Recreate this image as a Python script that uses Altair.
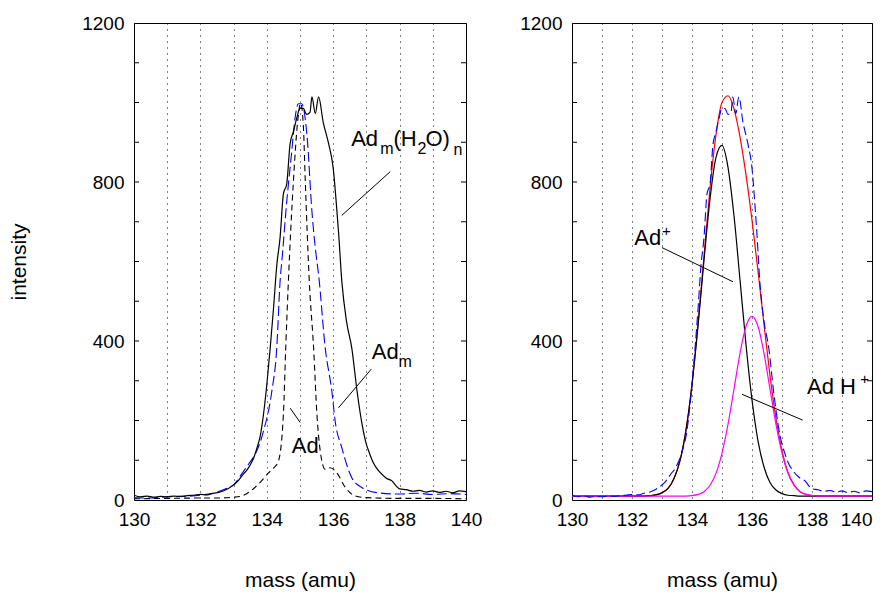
import altair as alt
import pandas as pd

# ---------------- data ----------------
# measured spectrum Ad_m(H2O)_n (left: black solid, right: blue dashed)
meas_x = [130.0, 130.2, 130.4, 130.6, 130.8, 131.0, 131.2, 131.4, 131.6, 131.8,
          132.0, 132.2, 132.4, 132.6, 132.8, 133.0, 133.1, 133.2, 133.3, 133.4,
          133.5, 133.6, 133.7, 133.8, 133.9, 134.0, 134.1, 134.2, 134.3, 134.4,
          134.5, 134.6, 134.7, 134.8, 134.9, 135.0, 135.1, 135.2, 135.3, 135.36,
          135.46, 135.56, 135.7, 135.86, 136.0, 136.1, 136.16, 136.26, 136.4, 136.56,
          136.72, 136.87, 137.0, 137.07, 137.2, 137.37, 137.5, 137.6, 137.77, 137.9,
          138.0, 138.2, 138.4, 138.6, 138.8, 139.0, 139.2, 139.4, 139.6, 139.8, 140.0]
meas_y = [12, 8, 10, 7, 9, 8, 10, 9, 11, 12,
          14, 13, 17, 20, 27, 38, 45, 55, 66, 75,
          88, 105, 130, 160, 215, 290, 380, 480, 590, 660,
          770, 795, 895, 926, 960, 985, 985, 970, 975, 1014,
          972, 1014, 950, 897, 835, 740, 675, 550, 450, 382,
          273, 190, 140, 123, 95, 73, 62, 55, 48, 35,
          28, 26, 22, 24, 20, 23, 19, 22, 18, 23, 21]

# Ad_m (left, blue dashed)
adm_x = [130.0, 130.5, 131.0, 131.5, 132.0, 132.24, 132.5, 132.84, 133.0, 133.24,
         133.45, 133.65, 133.9, 134.15, 134.3, 134.4, 134.47, 134.6, 134.75, 134.85,
         134.95, 135.05, 135.21, 135.36, 135.48, 135.56, 135.76, 135.96, 136.06, 136.26,
         136.56, 136.87, 137.37, 138.0, 138.5, 139.0, 139.5, 140.0]
adm_y = [6, 5, 8, 9, 12, 15, 20, 31, 38, 65,
         90, 115, 173, 273, 382, 550, 617, 750, 876, 960,
         997, 997, 918, 725, 620, 567, 382, 273, 198, 131,
         56, 31, 18, 15, 17, 14, 16, 14]

# Ad (left, black dashed)
ad_x = [130.0, 131.0, 132.0, 132.5, 133.0, 133.24, 133.5, 133.75, 134.05, 134.2,
        134.35, 134.5, 134.57, 134.65, 134.8, 134.95, 135.02, 135.1, 135.16, 135.28,
        135.41, 135.51, 135.61, 135.76, 135.91, 136.11, 136.37, 136.67, 137.0, 138.0,
        139.0, 140.0]
ad_y = [3, 4, 5, 5, 7, 10, 22, 40, 68, 80,
        98, 215, 382, 550, 800, 968, 998, 943, 800, 550,
        382, 215, 123, 77, 81, 68, 31, 10, 6, 4,
        4, 3]

# fitted components (right)
fit_x = [130.0, 132.0, 132.4, 132.6, 132.8, 133.0, 133.2, 133.4, 133.6, 133.8,
         134.0, 134.2, 134.4, 134.6, 134.8, 135.0, 135.2, 135.4, 135.6, 135.8,
         136.0, 136.2, 136.4, 136.6, 136.8, 137.0, 137.2, 137.4, 137.6, 137.8,
         138.0, 138.2, 140.0]
fit_adplus = [10, 10, 10, 11, 13, 18, 29, 54, 99, 176,
              290, 438, 603, 757, 862, 892, 837, 715, 554, 391,
              252, 149, 83, 44, 25, 16, 12, 11, 10, 10,
              10, 10, 10]
fit_adh = [10, 10, 10, 10, 10, 10, 10, 10, 10, 10,
           11, 14, 21, 37, 67, 118, 190, 279, 369, 437,
           462, 437, 369, 279, 190, 118, 67, 37, 21, 14,
           11, 10, 10]
fit_sum = [10, 10, 10, 11, 13, 18, 29, 54, 99, 176,
           291, 442, 614, 784, 919, 1000, 1017, 984, 913, 818,
           704, 576, 442, 313, 205, 124, 69, 38, 21, 14,
           11, 10, 10]

minor_ticks = [100, 200, 300, 400, 500, 600, 700, 800, 900, 1000, 1100]
y_labels = [0, 400, 800, 1200]
x_ticks = [130, 131, 132, 133, 134, 135, 136, 137, 138, 139, 140]

# annotations (data coordinates)
left_text = ["Ad", "m", "(H", "2", "O)", "n", "Ad", "m", "Ad"]
left_text_x = [136.542, 137.416, 137.816, 138.539, 138.780, 139.623, 137.163, 137.967, 134.753]
left_text_y = [890, 870, 890, 870, 890, 868, 354, 335, 119]
left_text_size = [22, 16, 22, 16, 22, 16, 22, 16, 22]

left_lead_x = [136.259, 136.160, 134.705]
left_lead_x2 = [137.717, 137.145, 135.006]
left_lead_y = [716, 232, 231]
left_lead_y2 = [826, 329, 195]

right_text = ["Ad", "+", "Ad H", "+"]
right_text_x = [132.077, 133.0, 137.833, 139.61]
right_text_y = [642, 665, 266, 292]
right_text_size = [22, 15, 22, 15]

right_lead_x = [133.0, 135.667]
right_lead_x2 = [135.367, 137.687]
right_lead_y = [635, 266]
right_lead_y2 = [549, 201]

# ---------------- chart ----------------
FONT = "Liberation Sans"
XDOM = [130, 140]
YDOM = [0, 1200]

XS = alt.Scale(domain=XDOM, nice=False, zero=False)
YS = alt.Scale(domain=YDOM, nice=False, zero=False)


def xaxis(right_end_flush=False):
    kw = dict(values=x_ticks, ticks=False, domain=False, grid=True,
              gridDash=[1, 5], gridColor="black", gridWidth=1,
              labelExpr="datum.value % 2 == 0 ? datum.label : ''",
              labelFlush=False, labelOverlap=False,
              labelFontSize=19, labelPadding=10, labelFont=FONT,
              labelColor="black", title="mass (amu)",
              titleFontSize=21, titleFont=FONT,
              titleFontWeight="normal", titlePadding=40,
              titleColor="black")
    if right_end_flush:
        kw["labelAlign"] = {"condition": {"test": "datum.value >= 140", "value": "right"},
                            "value": "center"}
    return alt.Axis(**kw)


def yaxis(title):
    kw = dict(values=y_labels, ticks=False, domain=False, grid=False, format="d",
              labelFlush=False, labelOverlap=False,
              labelFontSize=19, labelPadding=10, labelFont=FONT,
              labelColor="black")
    if title:
        kw.update(title=title, titleFontSize=21, titleFont=FONT,
                  titleFontWeight="normal", titlePadding=52, titleColor="black")
    else:
        kw.update(title=None)
    return alt.Axis(**kw)


def X(field, xa):
    return alt.X(field, scale=XS, axis=xa)


def Y(field, ya):
    return alt.Y(field, scale=YS, axis=ya)


def line(x, y, color, xa, ya, dash=None, width=1.2):
    df = pd.DataFrame({"x": x, "y": y})
    kw = dict(color=color, strokeWidth=width, clip=True, interpolate="monotone")
    if dash:
        kw["strokeDash"] = dash
    return alt.Chart(df).mark_line(**kw).encode(
        x=X("x:Q", xa), y=Y("y:Q", ya), order="x:Q")


def minor(w, ya):
    df = pd.DataFrame({"v": minor_ticks})
    left = alt.Chart(df).mark_rule(color="black", strokeWidth=1).encode(
        y=Y("v:Q", ya), x=alt.value(0), x2=alt.value(5))
    right = alt.Chart(df).mark_rule(color="black", strokeWidth=1).encode(
        y=Y("v:Q", ya), x=alt.value(w - 5), x2=alt.value(w))
    return [left, right]


def texts(t, x, y, s, xa, ya):
    df = pd.DataFrame({"t": t, "x": x, "y": y, "s": s})
    return alt.Chart(df).mark_text(align="left", baseline="alphabetic",
                                   font=FONT, color="black").encode(
        x=X("x:Q", xa), y=Y("y:Q", ya), text="t:N",
        size=alt.Size("s:Q", scale=None, legend=None))


def leaders(x, x2, y, y2, xa, ya):
    df = pd.DataFrame({"x": x, "x2": x2, "y": y, "y2": y2})
    return alt.Chart(df).mark_rule(color="black", strokeWidth=1).encode(
        x=X("x:Q", xa), x2="x2:Q", y=Y("y:Q", ya), y2="y2:Q")


WL, WR, H = 332, 300, 477

xa_l = xaxis(False)
ya_l = yaxis("intensity")
left = alt.layer(
    *minor(WL, ya_l),
    line(ad_x, ad_y, "black", xa_l, ya_l, dash=[6, 4], width=1.1),
    line(adm_x, adm_y, "#0000ff", xa_l, ya_l, dash=[10, 4], width=1.1),
    line(meas_x, meas_y, "black", xa_l, ya_l, width=1.2),
    leaders(left_lead_x, left_lead_x2, left_lead_y, left_lead_y2, xa_l, ya_l),
    texts(left_text, left_text_x, left_text_y, left_text_size, xa_l, ya_l),
).properties(width=WL, height=H)

xa_r = xaxis(True)
ya_r = yaxis(None)
right = alt.layer(
    *minor(WR, ya_r),
    line(fit_x, fit_sum, "#ff0000", xa_r, ya_r, width=1.2),
    line(fit_x, fit_adplus, "black", xa_r, ya_r, width=1.2),
    line(fit_x, fit_adh, "#ff00ff", xa_r, ya_r, width=1.2),
    line(meas_x, meas_y, "#0000ff", xa_r, ya_r, dash=[9, 4], width=1.1),
    leaders(right_lead_x, right_lead_x2, right_lead_y, right_lead_y2, xa_r, ya_r),
    texts(right_text, right_text_x, right_text_y, right_text_size, xa_r, ya_r),
).properties(width=WR, height=H)

chart = alt.hconcat(left, right, spacing=36).properties(
    padding={"left": 0, "top": 5, "right": 2, "bottom": 5}
).configure(font=FONT).configure_view(stroke="black", strokeWidth=1)

chart.save("out.html", embed_options={"renderer": "svg", "actions": False})
